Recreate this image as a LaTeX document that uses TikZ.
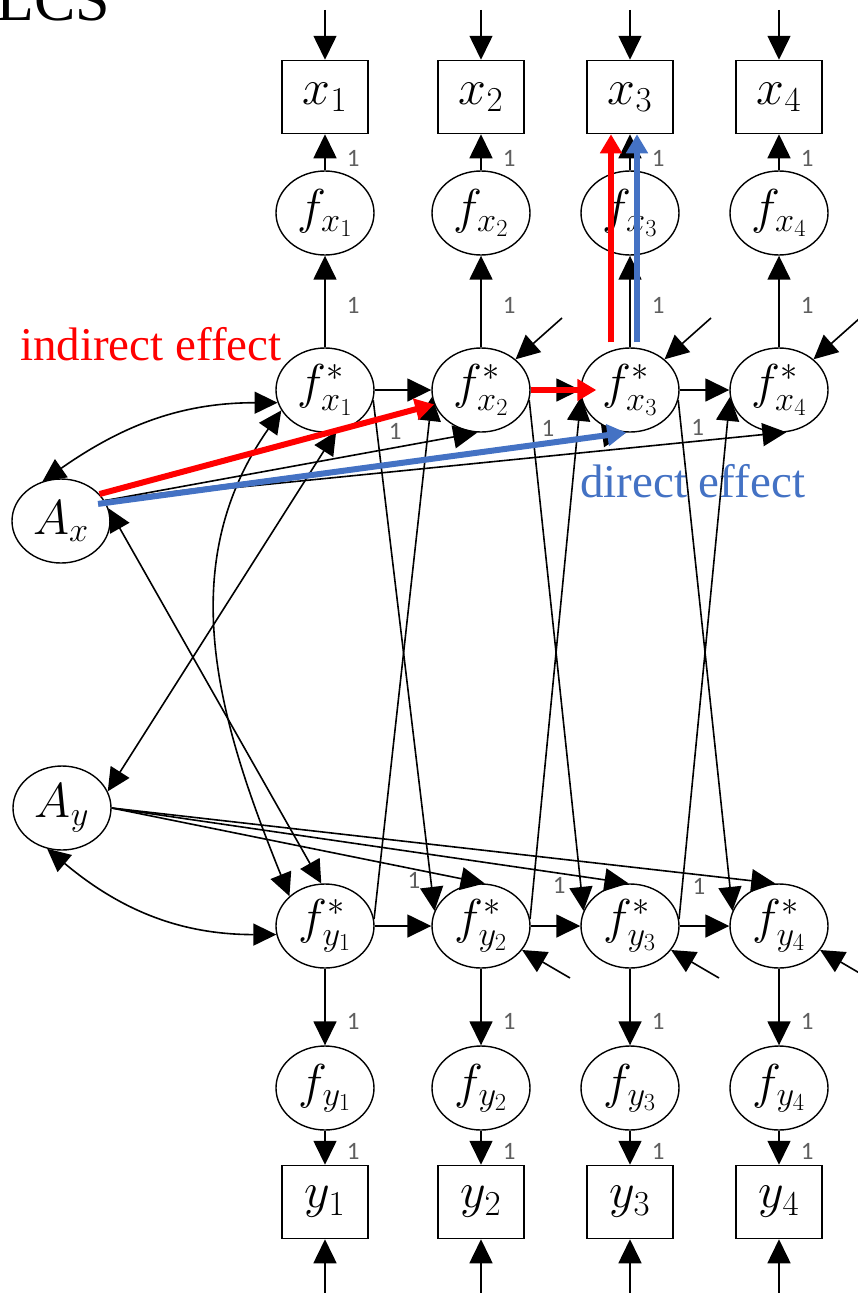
\RequirePackage{fix-cm}
\documentclass[tikz,border=0pt]{standalone}
\usepackage{fontspec}
\setmainfont{Liberation Serif}
\newfontfamily\onefont{Carlito}
\usepackage{tikz}
\usetikzlibrary{arrows.meta, shapes.geometric, positioning}
\usepackage{xcolor}
\definecolor{effred}{RGB}{255,0,0}
\definecolor{effblue}{RGB}{68,114,196}
\definecolor{onegray}{RGB}{95,95,95}

\begin{document}
\begin{tikzpicture}[x=1pt, y=1pt,
  obs/.style={draw, line width=1.5pt, minimum width=86pt, minimum height=73pt, inner sep=0pt, font=\fontsize{50}{52}\selectfont},
  lat/.style={draw, ellipse, line width=1.4pt, minimum width=98pt, minimum height=84pt, inner sep=-3pt, font=\fontsize{49}{51}\selectfont},
  reg/.style={-{Triangle[length=24pt, width=23pt]}, line width=1.6pt},
  cov/.style={{Triangle[length=23pt, width=22pt]}-{Triangle[length=23pt, width=22pt]}, line width=1.6pt},
  one/.style={font=\onefont\fontsize{25}{25}\selectfont, text=onegray, inner sep=1pt},
  hi/.style={-{Triangle[length=19pt, width=21pt]}, line width=6pt}
]
  \useasboundingbox (0,0) rectangle (857,-1293);

  % titles
  \node[anchor=base west, inner sep=0pt, font=\fontsize{62}{62}\selectfont] (title) at (-4,-20) {LCS};
  \node[anchor=base west, inner sep=0pt, text=effred, font=\fontsize{47}{47}\selectfont] (indirect) at (20,-360) {indirect effect};
  \node[anchor=base west, inner sep=0pt, text=effblue, font=\fontsize{47}{47}\selectfont] (direct) at (580,-497) {direct effect};

  % one column per occasion
  \foreach \i/\cx in {1/325, 2/481, 3/630, 4/779} {
    \node[obs] (x\i) at (\cx,-97) {$x_{\i}$};
    \node[lat] (fx\i) at (\cx,-213) {$f_{x_{\i}}$};
    \node[lat] (sx\i) at (\cx,-390) {$f^{*}_{x_{\i}}$};
    \node[lat] (sy\i) at (\cx,-926) {$f^{*}_{y_{\i}}$};
    \node[lat] (fy\i) at (\cx,-1088) {$f_{y_{\i}}$};
    \node[obs] (y\i) at (\cx,-1202) {$y_{\i}$};
    \coordinate[above=50pt of x\i.north] (ex\i);
    \coordinate[below=54pt of y\i.south] (ey\i);
    % measurement part
    \draw[reg] (ex\i) -- (x\i);
    \draw[reg] (fx\i) -- node[one, pos=0.34, right=20pt] {1} (x\i);
    \draw[reg] (sx\i) -- node[one, pos=0.46, right=20pt] {1} (fx\i);
    \draw[reg] (sy\i) -- node[one, pos=0.69, right=20pt] {1} (fy\i);
    \draw[reg] (fy\i) -- node[one, pos=0.6, right=20pt] {1} (y\i);
    \draw[reg] (ey\i) -- (y\i);
  }

  % residuals
  \foreach \i in {2,3,4} {
    \coordinate[above right=72pt and 81pt of sx\i.center] (rx\i);
    \coordinate[below right=52pt and 89pt of sy\i.center] (ry\i);
    \draw[reg] (rx\i) -- (sx\i);
    \draw[reg] (ry\i) -- (sy\i);
  }

  % auto-regressive and cross-lagged paths
  \foreach \i/\j in {1/2, 2/3, 3/4} {
    \draw[reg] (sx\i) -- (sx\j);
    \draw[reg] (sy\i) -- (sy\j);
    \draw[reg] (sx\i.-12) -- (sy\j.162);
    \draw[reg] (sy\i.8) -- (sx\j.188);
  }

  % slope factors
  \node[lat] (Ax) at (61,-521) {$A_x$};
  \node[lat] (Ay) at (62,-808) {$A_y$};
  \draw[reg] (Ax.25) -- node[one, pos=0.78, above=6pt] {1} (sx2.-95);
  \draw[reg] (Ax.25) -- node[one, pos=0.85, above=4pt] {1} (sx3.-95);
  \draw[reg] (Ax.25) -- node[one, pos=0.87, above=4pt] {1} (sx4.-80);
  \draw[reg] (Ay.east) -- node[one, pos=0.81, below=2pt] {1} (sy2.85);
  \draw[reg] (Ay.east) -- node[one, pos=0.866, below=2pt] {1} (sy3.92);
  \draw[reg] (Ay.east) -- node[one, pos=0.885, below=2pt] {1} (sy4.95);

  % covariances
  \draw[cov] (Ax.115) to[out=35, in=180] (sx1.195);
  \draw[cov] (Ay.250) to[out=-40, in=180] (sy1.190);
  \draw[cov] (sx1.205) to[out=235, in=112] (sy1.140);
  \draw[cov] (Ax.15) -- (sy1.95);
  \draw[cov] (Ay.20) -- (sx1.-75);

  % highlighted effects
  \draw[hi, effred] (Ax.35) -- (sx2.197);
  \draw[hi, effred] (sx2.east) -- ([xshift=16pt]sx3.west);
  \draw[hi, effred] ([xshift=-19pt, yshift=5pt]sx3.north) -- ([xshift=-19pt]x3.south);
  \draw[hi, effblue, shorten <=-8pt] (Ax.22) -- (sx3.-95);
  \draw[hi, effblue] ([xshift=7pt, yshift=5pt]sx3.north) -- ([xshift=7pt]x3.south);
\end{tikzpicture}
\end{document}
